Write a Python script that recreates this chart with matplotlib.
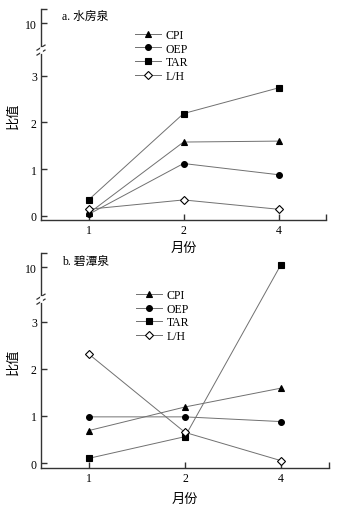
import numpy as np
import matplotlib
matplotlib.use("Agg")
import matplotlib.pyplot as plt

plt.rcParams['font.family'] = ['Liberation Serif', 'Noto Sans CJK SC', 'DejaVu Sans']
plt.rcParams['font.size'] = 8

months = ["1", "2", "4"]
series_names = ["CPI", "OEP", "TAR", "L/H"]

a_title = "a. 水房泉"
a_cpi = [0.05, 1.58, 1.60]
a_oep = [0.03, 1.12, 0.88]
a_tar = [0.34, 2.19, 2.74]
a_lh = [0.14, 0.34, 0.14]

b_title = "b. 碧潭泉"
b_cpi = [0.69, 1.19, 1.59]
b_oep = [0.98, 0.98, 0.88]
b_tar = [0.10, 0.56, 10.6]
b_lh = [2.31, 0.65, 0.05]

yticks = [0, 1, 2, 3, 10]
xlabel = "月份"
ylabel = "比值"

markers = ['^', 'o', 's', 'D']
mfc = ['black', 'black', 'black', 'white']
msize = [4.6, 4.2, 3.8, 3.6]

fig = plt.figure(figsize=(3.42, 5.10), dpi=100)


def make_scale(brk, ten, upper_slope=0.1):
    # piecewise-linear broken axis: lower part linear, upper part compressed
    b2 = 10 - (ten - brk - 0.01) / upper_slope
    xp = np.array([-10.0, brk, b2, 10.0, 30.0])
    fp = np.array([-10.0, brk, brk + 0.01, ten, ten + upper_slope * 20])

    def fwd(v):
        return np.interp(v, xp, fp)

    def inv(d):
        return np.interp(d, fp, xp)
    return fwd, inv


def panel(rect, title, data, brk, ten, top_disp, bot, leg_anchor, xlpad):
    ax = fig.add_axes(rect)
    ax.patch.set_visible(False)
    fwd, inv = make_scale(brk, ten)
    ax.set_yscale('function', functions=(fwd, inv))
    x = np.arange(len(months))
    for name, vals, m, fc, ms in zip(series_names, data, markers, mfc, msize):
        ax.plot(x, vals, color='#707070', lw=0.7, marker=m, mfc=fc,
                mec='black', mew=0.8, ms=ms, label=name, zorder=3)
    ax.set_xlim(-0.5, 2.5)
    top_val = float(inv(top_disp))
    ax.set_ylim(bot, top_val)
    ax.set_xticks(x)
    ax.set_xticklabels(months)
    ax.set_yticks(yticks)
    ax.set_yticklabels([str(t) for t in yticks])
    ax.set_xticks([2.5], minor=True)
    ax.set_yticks([top_val], minor=True)
    for s in ['top', 'right']:
        ax.spines[s].set_visible(False)
    for s in ['left', 'bottom']:
        ax.spines[s].set_linewidth(1.0)
        ax.spines[s].set_color('#333333')
    ax.tick_params(which='both', direction='in', length=4, width=1.0,
                   color='#333333', labelsize=8.5, pad=3)
    ax.set_xlabel(xlabel, fontsize=9.5, labelpad=xlpad)
    ax.set_ylabel(ylabel, fontsize=9.5, labelpad=4)
    ax.text(0.074, 0.965, title, transform=ax.transAxes, fontsize=8.5,
            ha='left', va='center')
    ax.legend(loc='upper left', bbox_to_anchor=leg_anchor, frameon=False,
              fontsize=8.5, handlelength=2.2, handletextpad=0.4,
              labelspacing=0.15, borderpad=0, borderaxespad=0)
    # break marks on the left spine
    fig.canvas.draw()
    bbox = ax.get_window_extent()
    w, h = bbox.width, bbox.height
    f = (brk - bot) / (top_disp - bot)
    for dy in (-2.5, 2.5):
        ax.plot([-4 / w, 4 / w], [f + (dy - 2.5) / h, f + (dy + 2.5) / h],
                transform=ax.transAxes, color='#333333', lw=0.9, clip_on=False)
    ax.plot([0, 0], [f - 2 / h, f + 2 / h], transform=ax.transAxes,
            color='white', lw=2, clip_on=False, zorder=5)
    return ax


panel([41 / 342, 1 - 221 / 510, 285 / 342, 211 / 510], a_title,
      [a_cpi, a_oep, a_tar, a_lh], brk=3.55, ten=4.13, top_disp=4.43,
      bot=-0.09, leg_anchor=(0.33, 0.906), xlpad=4)
panel([41 / 342, 1 - 469 / 510, 288 / 342, 215 / 510], b_title,
      [b_cpi, b_oep, b_tar, b_lh], brk=3.48, ten=4.155, top_disp=4.46,
      bot=-0.106, leg_anchor=(0.33, 0.833), xlpad=6)

fig.savefig("out.png", dpi=100)
